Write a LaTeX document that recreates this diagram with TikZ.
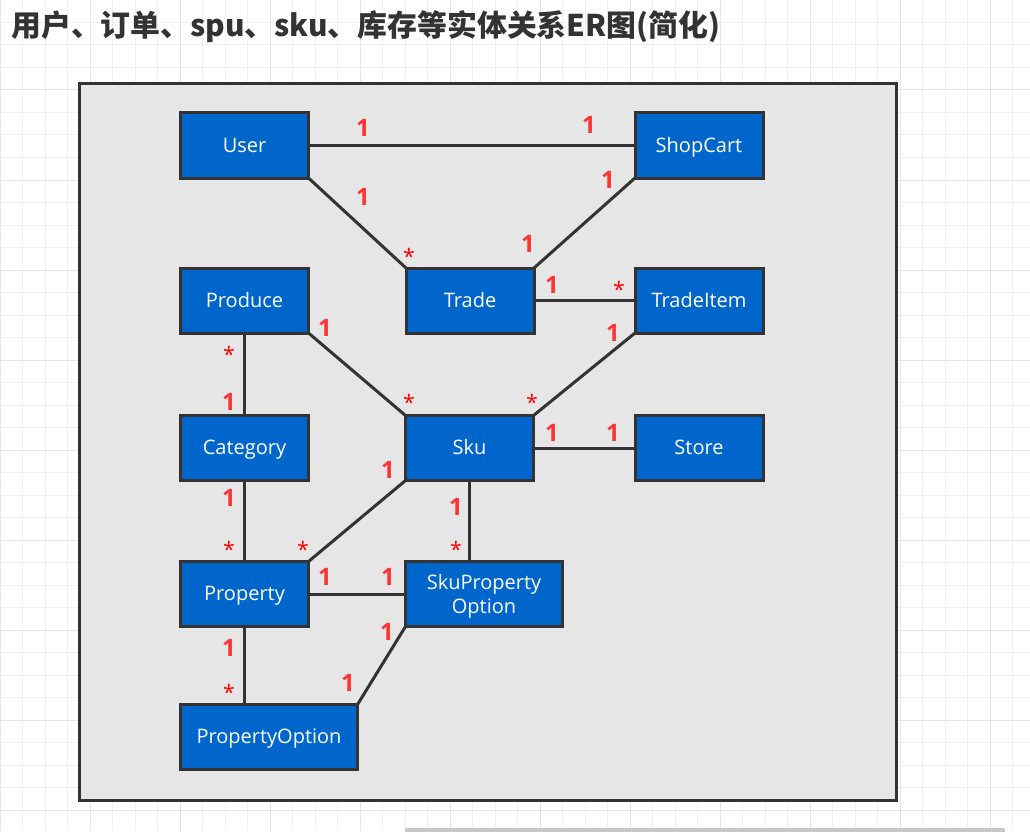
\documentclass[tikz,border=0pt]{standalone}
\usepackage{fontspec}
\setmainfont{Open Sans}
\newfontfamily\cjkfont{Noto Sans CJK SC}
\definecolor{boxblue}{HTML}{0066CC}
\definecolor{edgec}{HTML}{333333}
\definecolor{panel}{HTML}{E6E6E6}
\definecolor{lblred}{HTML}{FF3333}
\definecolor{gridc}{HTML}{F0F0F0}
\definecolor{gridm}{HTML}{E6E6E6}
\definecolor{barc}{HTML}{C8C8C8}
\tikzset{
  entity/.style={draw=edgec, line width=2.25pt, fill=boxblue, text=white,
    font=\fontsize{15}{17}\selectfont, minimum width=96pt, minimum height=48.75pt,
    inner sep=0pt, outer sep=0pt, align=center, text height=13.35pt, text depth=3.6pt},
  rel/.style={draw=edgec, line width=2.25pt},
  one/.style={text=lblred, font=\bfseries\fontsize{18}{18}\selectfont, inner sep=0pt},
  many/.style={text=red, font=\fontsize{16}{16}\selectfont, inner sep=0pt, anchor=base},
}
\begin{document}
\begin{tikzpicture}[x=0.75pt,y=-0.75pt]
\useasboundingbox (0,0) rectangle (1030,831);
\fill[white] (0,0) rectangle (1030,831);
% grid
\foreach \i in {0,...,45} {
  \draw[gridc, line width=0.75pt] ({\i*22.5},0) -- ({\i*22.5},831);
}
\foreach \j in {0,...,37} {
  \draw[gridc, line width=0.75pt] (0,{\j*22.5}) -- (1030,{\j*22.5});
}
\foreach \i in {0,4,...,44} {
  \draw[gridm, line width=0.75pt] ({\i*22.5},0) -- ({\i*22.5},831);
}
\foreach \j in {0,4,...,36} {
  \draw[gridm, line width=0.75pt] (0,{\j*22.5}) -- (1030,{\j*22.5});
}
\fill[barc, rounded corners=1pt] (405,828) rectangle (1005,833);
% title
\node[anchor=west, inner sep=0pt, text=edgec, font=\cjkfont\bfseries\fontsize{22.4}{22.4}\selectfont] (title) at (11,27) {用户、订单、spu、sku、库存等实体关系ER图(简化)};
% panel
\draw[edgec, fill=panel, line width=2.25pt] (79.5,83.5) rectangle (896.5,800.5);
% entities
\node[entity] (user) at (244.5,145.5) {User};
\node[entity] (shopcart) at (699,145.5) {ShopCart};
\node[entity] (produce) at (244.5,300.5) {Produce};
\node[entity] (trade) at (470,300.5) {Trade};
\node[entity] (tradeitem) at (699,300.5) {TradeItem};
\node[entity] (category) at (244.5,448) {Category};
\node[entity] (sku) at (469.5,448) {Sku};
\node[entity] (store) at (699,448) {Store};
\node[entity] (property) at (244.5,594) {Property};
\node[entity, minimum width=117.75pt, text height={}, text depth=0pt, font=\fontsize{15}{18}\selectfont] (skupo) at (484,594) {SkuProperty\\Option};
\node[entity, minimum width=132.75pt] (propopt) at (269,737) {PropertyOption};
% relations
\draw[rel] (user.east) -- (shopcart.west);
\draw[rel] (user.south east) -- (trade.north west);
\draw[rel] (shopcart.south west) -- (trade.north east);
\draw[rel] (trade.east) -- (tradeitem.west);
\draw[rel] (produce.south east) -- (sku.north west);
\draw[rel] (tradeitem.south west) -- (sku.north east);
\draw[rel] (sku.east) -- (store.west);
\draw[rel] (produce.south) -- (category.north);
\draw[rel] (category.south) -- (property.north);
\draw[rel] (sku.south west) -- (property.north east);
\draw[rel] (sku.south) -- (sku.south |- skupo.north);
\draw[rel] (property.east) -- (skupo.west);
\draw[rel] (property.south) -- (property.south |- propopt.north);
\draw[rel] (skupo.south west) -- (propopt.north east);
% multiplicities
\node[one] (l1) at (363,128) {1};
\node[one] (l2) at (589,125) {1};
\node[one] (l3) at (363,197) {1};
\node[many] (l4) at (409,264) {*};
\node[one] (l5) at (608,180) {1};
\node[one] (l6) at (528,244) {1};
\node[one] (l7) at (552,285) {1};
\node[many] (l8) at (619,297) {*};
\node[one] (l9) at (325,328) {1};
\node[many] (l10) at (409,410) {*};
\node[one] (l11) at (613,333) {1};
\node[many] (l12) at (532,410) {*};
\node[many] (l13) at (229,362) {*};
\node[one] (l14) at (229,402) {1};
\node[one] (l15) at (552,433) {1};
\node[one] (l16) at (613,433) {1};
\node[one] (l17) at (229,498) {1};
\node[many] (l18) at (229,557) {*};
\node[one] (l19) at (388,470) {1};
\node[many] (l20) at (303,557) {*};
\node[one] (l21) at (456,507) {1};
\node[many] (l22) at (456,557) {*};
\node[one] (l23) at (325,577) {1};
\node[one] (l24) at (388,577) {1};
\node[one] (l25) at (229,648) {1};
\node[many] (l26) at (229,700) {*};
\node[one] (l27) at (387,632) {1};
\node[one] (l28) at (348,683) {1};
\end{tikzpicture}
\end{document}
